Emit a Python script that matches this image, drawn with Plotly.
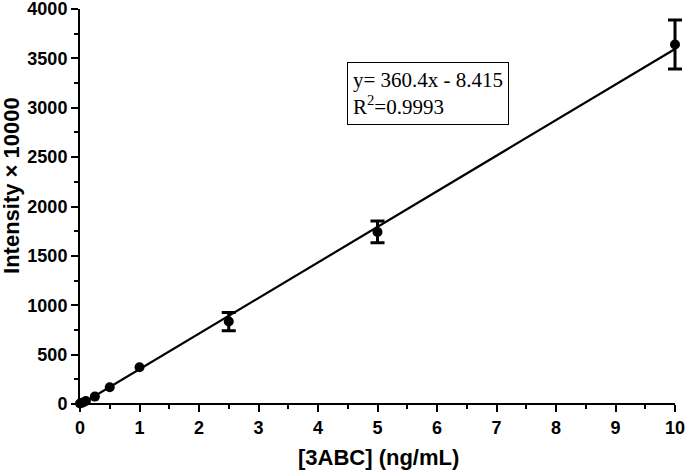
import plotly.graph_objects as go

conc = [0, 0.05, 0.1, 0.25, 0.5, 1, 2.5, 5, 10]
intensity = [5, 15, 30, 75, 170, 372, 835, 1742, 3640]
err = [0, 0, 0, 0, 0, 0, 92, 110, 248]

slope = 360.4
intercept = -8.415
fit_x = [0, 10]
fit_y = [slope * x + intercept for x in fit_x]

x_max = 10
# a little room past x=10 so the last error bar cap is not clipped
x_pad = x_max * 10 / 595
plot_w = 605

# points without a visible error bar get no caps at all
has_err = [e > 0 for e in err]
x_plain = [x for x, h in zip(conc, has_err) if not h]
y_plain = [y for y, h in zip(intensity, has_err) if not h]
x_eb = [x for x, h in zip(conc, has_err) if h]
y_eb = [y for y, h in zip(intensity, has_err) if h]
e_eb = [e for e, h in zip(err, has_err) if h]

fig = go.Figure()
fig.add_trace(go.Scatter(
    x=fit_x, y=fit_y, mode="lines",
    line=dict(color="black", width=2.2),
    showlegend=False, hoverinfo="skip"))
fig.add_trace(go.Scatter(
    x=x_plain, y=y_plain, mode="markers",
    marker=dict(color="black", size=10),
    showlegend=False, cliponaxis=False))
fig.add_trace(go.Scatter(
    x=x_eb, y=y_eb, mode="markers",
    marker=dict(color="black", size=10),
    error_y=dict(type="data", array=e_eb, visible=True,
                 color="black", thickness=3, width=7),
    showlegend=False, cliponaxis=False))

fig.add_annotation(
    xref="paper", yref="paper", x=267 / plot_w, y=0.866,
    xanchor="left", yanchor="top", align="left", showarrow=False,
    text="y= 360.4x - 8.415<br>R<sup>2</sup>=0.9993",
    font=dict(family="Liberation Serif", size=21, color="black"),
    bordercolor="black", borderwidth=1, borderpad=5, bgcolor="white")

title_font = dict(family="Liberation Sans", size=22, color="black", weight="bold")

# axis titles placed by hand to sit where the original has them
fig.add_annotation(
    xref="paper", yref="paper", x=-68 / plot_w, y=0.552,
    xanchor="center", yanchor="middle", textangle=-90, showarrow=False,
    text="Intensity × 10000", font=title_font)
fig.add_annotation(
    xref="paper", yref="paper", x=298 / plot_w, y=-0.135,
    xanchor="center", yanchor="middle", showarrow=False,
    text="[3ABC] (ng/mL)", font=title_font)

# x axis line only up to 10
fig.add_shape(type="line", xref="x", yref="paper", x0=0, x1=x_max, y0=0, y1=0,
              line=dict(color="black", width=2), layer="above")

axis_common = dict(
    linecolor="black", linewidth=2,
    ticks="outside", ticklen=7, tickwidth=2, tickcolor="black",
    showgrid=False, zeroline=False, automargin=False,
    ticklabeloverflow="allow",
    tickfont=dict(family="Liberation Sans", size=18, color="black", weight="bold"),
)

fig.update_xaxes(
    range=[0, x_max + x_pad], showline=False,
    tickvals=list(range(0, 11)),
    minor=dict(ticks="outside", tickvals=[i + 0.5 for i in range(10)],
               ticklen=4, tickwidth=2, tickcolor="black"),
    **axis_common)
fig.update_yaxes(
    range=[0, 4000], tick0=0, dtick=500, showline=True,
    minor=dict(ticks="outside", dtick=250, ticklen=4, tickwidth=2, tickcolor="black"),
    **axis_common)

fig.update_layout(
    width=685, height=473,
    margin=dict(l=80, r=0, t=9, b=69),
    plot_bgcolor="white", paper_bgcolor="white",
)

# drop the default page margin so the figure fills the window
fig.write_html("out.html", config={"displayModeBar": False},
               post_script="document.body.style.margin='0';")
